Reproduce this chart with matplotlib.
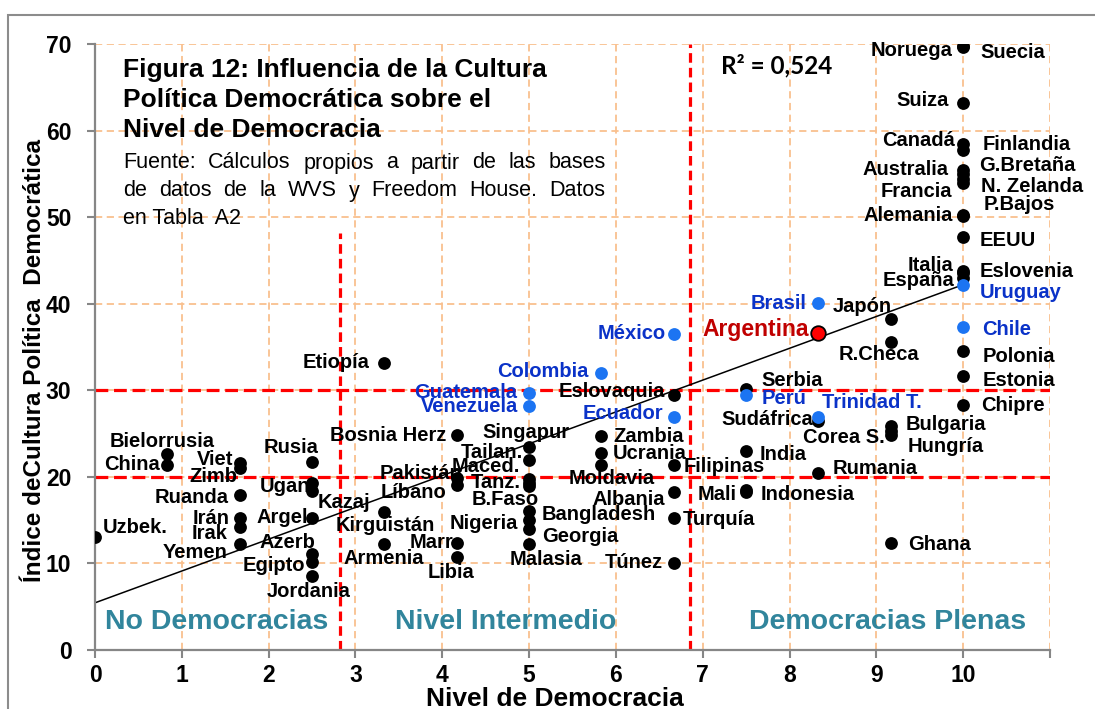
import matplotlib
matplotlib.use('Agg')
import matplotlib.pyplot as plt
from matplotlib.patches import Rectangle

W, H = 1095, 709

countries = ["Uzbek.", "Bielorrusia", "China", "Viet", "Zimb", "Ruanda", "Irán", "Irak", "Yemen",
             "Rusia", "Ugan", "Kazaj", "Argel", "Azerb", "Egipto", "Jordania", "Etiopía",
             "Bosnia Herz", "Pakistán", "Líbano", "Kirguistán", "Armenia", "Marr", "Libia",
             "Singapur", "Tailan.", "Maced.", "Tanz.", "B.Faso", "Bangladesh", "Nigeria",
             "Georgia", "Malasia", "Colombia", "Guatemala", "Venezuela", "Eslovaquia", "Ecuador",
             "México", "Zambia", "Ucrania", "Moldavia", "Filipinas", "Albania", "Turquía", "Túnez",
             "Brasil", "Argentina", "Japón", "R.Checa", "Chile", "Polonia", "Estonia", "Chipre",
             "Serbia", "Perú", "Trinidad T.", "Sudáfrica", "Corea S.", "Bulgaria", "Hungría",
             "India", "Rumania", "Mali", "Indonesia", "Ghana",
             "Noruega", "Suecia", "Suiza", "Canadá", "Finlandia", "Australia", "G.Bretaña",
             "Francia", "N. Zelanda", "Alemania", "P.Bajos", "EEUU", "Italia", "Eslovenia",
             "España", "Uruguay"]

democracy = [0, 0.83, 0.83, 1.67, 1.67, 1.67, 1.67, 1.67, 1.67,
             2.5, 2.5, 2.5, 2.5, 2.5, 2.5, 2.5, 3.33,
             4.17, 4.17, 4.17, 3.33, 3.33, 4.17, 4.17,
             5, 5, 5, 5, 5, 5, 5,
             5, 5, 5.83, 5, 5, 6.67, 6.67,
             6.67, 5.83, 5.83, 5.83, 6.67, 6.67, 6.67, 6.67,
             8.33, 8.33, 9.17, 9.17, 10, 10, 10, 10,
             7.5, 7.5, 8.33, 8.33, 9.17, 9.17, 9.17,
             7.5, 8.33, 7.5, 7.5, 9.17,
             10, 10, 10, 10, 10, 10, 10,
             10, 10, 10, 10, 10, 10, 10,
             10, 10]

culture = [13.05, 22.6, 21.4, 21.6, 21.0, 17.9, 15.2, 14.2, 12.3,
           21.75, 19.25, 18.4, 15.3, 11.1, 10.2, 8.55, 33.2,
           24.8, 19.9, 19.1, 15.9, 12.3, 12.4, 10.8,
           23.5, 21.95, 19.8, 19.3, 18.9, 16.0, 15.0,
           14.0, 12.3, 32.0, 29.65, 28.2, 29.4, 26.95,
           36.5, 24.7, 22.8, 21.4, 21.4, 18.2, 15.3, 10.1,
           40.1, 36.65, 38.2, 35.6, 37.3, 34.5, 31.7, 28.3,
           30.2, 29.45, 26.9, 26.4, 25.3, 25.9, 24.8,
           23.0, 20.5, 18.5, 18.3, 12.4,
           69.8, 69.6, 63.15, 58.4, 57.8, 55.4, 55.0,
           54.4, 54.0, 50.3, 50.1, 47.7, 43.8, 43.5,
           43.0, 42.2]

latam = ["Colombia", "Guatemala", "Venezuela", "Ecuador", "México", "Brasil", "Chile",
         "Perú", "Trinidad T.", "Uruguay"]
highlight = ["Argentina"]

x_ticklabels = ["0", "1", "2", "3", "4", "5", "6", "7", "8", "9", "10", ""]
y_ticks = [0, 10, 20, 30, 40, 50, 60, 70]

# reference lines / trend
culture_thresholds = [20, 30]
democracy_thresholds = [(2.82, 48.2), (6.855, 70)]
trend_intercept, trend_slope = 5.45, 3.675
r2_text = "R² = 0,524"

# label offsets in pixels (dx, dy, ha)
label_pos = {
    "Uzbek.": (8, 10, 'left'), "Bielorrusia": (-5, 13, 'center'), "China": (-7, 0, 'right'),
    "Viet": (-7, 4, 'right'), "Zimb": (-3, -8, 'right'), "Ruanda": (-11, -2, 'right'),
    "Irán": (-10, 0, 'right'), "Irak": (-12, -6, 'right'), "Yemen": (-12, -9, 'right'),
    "Rusia": (6, 14, 'right'), "Ugan": (-2, -3, 'right'), "Kazaj": (6, -12, 'left'),
    "Argel": (-4, 0, 'right'), "Azerb": (3, 11, 'right'), "Egipto": (-7, -4, 'right'),
    "Jordania": (-3, -16, 'center'), "Etiopía": (-15, 0, 'right'),
    "Bosnia Herz": (-11, 0, 'right'), "Pakistán": (5, 4, 'right'), "Líbano": (-11, -8, 'right'),
    "Kirguistán": (1, -13, 'center'), "Armenia": (0, -15, 'center'), "Marr": (-4, 0, 'right'),
    "Libia": (-6, -16, 'center'), "Singapur": (-3, 14, 'center'), "Tailan.": (-6, 7, 'right'),
    "Maced.": (-9, 12, 'right'), "Tanz.": (-8, 0, 'right'), "B.Faso": (-24, -13, 'center'),
    "Bangladesh": (13, -3, 'left'), "Nigeria": (-11, -3, 'right'), "Georgia": (13, -8, 'left'),
    "Malasia": (17, -16, 'center'), "Colombia": (-13, 1, 'right'),
    "Guatemala": (-12, 1, 'right'), "Venezuela": (-11, -1, 'right'),
    "Eslovaquia": (-9, 4, 'right'), "Ecuador": (-11, 3, 'right'), "México": (-8, 1, 'right'),
    "Zambia": (12, 0, 'left'), "Ucrania": (12, -1, 'left'), "Moldavia": (11, -14, 'center'),
    "Filipinas": (10, -2, 'left'), "Albania": (-9, -7, 'right'), "Turquía": (9, -2, 'left'),
    "Túnez": (-11, 0, 'right'), "Brasil": (-12, -1, 'right'), "Argentina": (-9, 3, 'right'),
    "Japón": (1, 13, 'right'), "R.Checa": (-12, -13, 'center'), "Chile": (19, -2, 'left'),
    "Polonia": (19, -5, 'left'), "Estonia": (19, -5, 'left'), "Chipre": (18, 0, 'left'),
    "Serbia": (15, 8, 'left'), "Perú": (15, -3, 'left'), "Trinidad T.": (4, 15, 'left'),
    "Sudáfrica": (-5, 2, 'right'), "Corea S.": (-6, -7, 'right'), "Bulgaria": (15, 1, 'left'),
    "Hungría": (17, -11, 'left'), "India": (13, -4, 'left'), "Rumania": (14, 4, 'left'),
    "Mali": (-10, -5, 'right'), "Indonesia": (14, -3, 'left'), "Ghana": (17, -2, 'left'),
    "Noruega": (-11, -5, 'right'), "Suecia": (17, -5, 'left'), "Suiza": (-14, 3, 'right'),
    "Canadá": (-8, 4, 'right'), "Finlandia": (19, 5, 'left'), "Australia": (-15, 1, 'right'),
    "G.Bretaña": (16, 8, 'left'), "Francia": (-11, -12, 'right'),
    "N. Zelanda": (18, -4, 'left'), "Alemania": (-10, -1, 'right'), "P.Bajos": (20, 12, 'left'),
    "EEUU": (16, -3, 'left'), "Italia": (-10, 5, 'right'), "Eslovenia": (16, 2, 'left'),
    "España": (-9, -3, 'right'), "Uruguay": (17, -8, 'left'),
}

FONT = 'Liberation Sans'
plt.rcParams['font.family'] = [FONT, 'DejaVu Sans']

GRID = '#F9C08F'
RED = '#FF0000'
TEAL = '#31859C'
BLUE_DOT = '#1C74F2'
BLUE_TXT = '#0A32C8'
SPINE = '#868686'

fig = plt.figure(figsize=(W / 100, H / 100), dpi=100)
ax = fig.add_axes([95 / W, 1 - 650 / H, 955 / W, 606 / H])
ax.set_xlim(0, 11)
ax.set_ylim(0, 70)

ax.set_xticks(range(12))
ax.set_xticklabels(x_ticklabels)
ax.set_yticks(y_ticks)
ax.grid(True, color=GRID, linestyle=(0, (4, 2.5)), linewidth=1.3, zorder=0)
ax.set_axisbelow(True)
for s in ['top', 'right']:
    ax.spines[s].set_visible(False)
for s in ['left', 'bottom']:
    ax.spines[s].set_color(SPINE)
    ax.spines[s].set_linewidth(1.6)
ax.tick_params(axis='both', direction='out', length=6, width=1.5, color=SPINE,
               labelsize=16.5)
ax.tick_params(axis='y', pad=11)
ax.tick_params(axis='x', pad=4)
for lab in ax.get_xticklabels() + ax.get_yticklabels():
    lab.set_fontweight('bold')

# red threshold lines
for yv in culture_thresholds:
    ax.plot([0, 11], [yv, yv], color=RED, lw=2.3, linestyle=(0, (4, 1.8)), zorder=1)
for xv, ytop in democracy_thresholds:
    ax.plot([xv, xv], [0, ytop], color=RED, lw=2.3, linestyle=(0, (3, 1.6)), zorder=1)

# trend line
ax.plot([0, 10], [trend_intercept, trend_intercept + trend_slope * 10], color='black',
        lw=1.1, zorder=2)

# points
for grp in ['k', 'b', 'r']:
    xs, ys = [], []
    for n, xv, yv in zip(countries, democracy, culture):
        g = 'r' if n in highlight else ('b' if n in latam else 'k')
        if g == grp:
            xs.append(xv)
            ys.append(yv)
    if grp == 'k':
        ax.scatter(xs, ys, s=85, color='black', zorder=3, linewidths=0)
    elif grp == 'b':
        ax.scatter(xs, ys, s=85, color=BLUE_DOT, zorder=4, linewidths=0)
    else:
        ax.scatter(xs, ys, s=110, color=RED, edgecolors='black', linewidths=1.3, zorder=5)

for n, xv, yv in zip(countries, democracy, culture):
    dx, dy, ha = label_pos[n]
    if n in highlight:
        col, fs = '#C00000', 16.5
    elif n in latam:
        col, fs = BLUE_TXT, 14.5
    else:
        col, fs = 'black', 14.5
    ax.annotate(n, (xv, yv), xytext=(dx, dy), textcoords='offset pixels', ha=ha,
                va='center', fontsize=fs, fontweight='bold', color=col, zorder=6)


def fx(px):
    return px / W


def fy(py):
    return 1 - py / H


# region labels
fig.text(fx(105), fy(622), "No Democracias", color=TEAL, fontsize=20.5, fontweight='bold',
         va='center', ha='left')
fig.text(fx(395), fy(622), "Nivel Intermedio", color=TEAL, fontsize=20.5, fontweight='bold',
         va='center', ha='left')
fig.text(fx(749), fy(622), "Democracias Plenas", color=TEAL, fontsize=20.5, fontweight='bold',
         va='center', ha='left')

# title block
for i, line in enumerate(["Figura 12: Influencia de la Cultura",
                          "Política Democrática sobre el",
                          "Nivel de Democracia"]):
    fig.text(fx(123), fy(70 + 30 * i), line, fontsize=19, fontweight='bold', va='center',
             ha='left')

renderer = fig.canvas.get_renderer()


def justified(line, x0, x1, ypix, **kw):
    words = line.split()
    texts = [fig.text(0, fy(ypix), w, va='center', ha='left', **kw) for w in words]
    widths = [t.get_window_extent(renderer).width for t in texts]
    gap = ((x1 - x0) - sum(widths)) / max(len(words) - 1, 1)
    x = x0
    for t, w in zip(texts, widths):
        t.set_x(fx(x))
        x += w + gap


justified("Fuente: Cálculos propios a partir de las bases", 123, 606, 163, fontsize=15.5)
justified("de datos de la WVS y Freedom House. Datos", 123, 605, 191, fontsize=15.5)
fig.text(fx(123), fy(219), "en Tabla  A2", fontsize=15.5, va='center', ha='left')

fig.text(fx(721), fy(66), r2_text, fontsize=17.5, fontweight='bold', family=['Lato', 'DejaVu Sans'],
         va='center', ha='left')

# axis titles
fig.text(fx(555), fy(699), "Nivel de Democracia", fontsize=19, fontweight='bold',
         ha='center', va='center')
fig.text(fx(35), fy(360), "Índice deCultura Política  Democrática", fontsize=17.5,
         fontweight='bold', ha='center', va='center', rotation=90)

# outer chart border
fig.add_artist(Rectangle((fx(8), -0.05), 1.2, fy(15) + 0.05, transform=fig.transFigure,
                         fill=False, ec='#8C8C8C', lw=1.5))

fig.savefig('out.png', dpi=100)
